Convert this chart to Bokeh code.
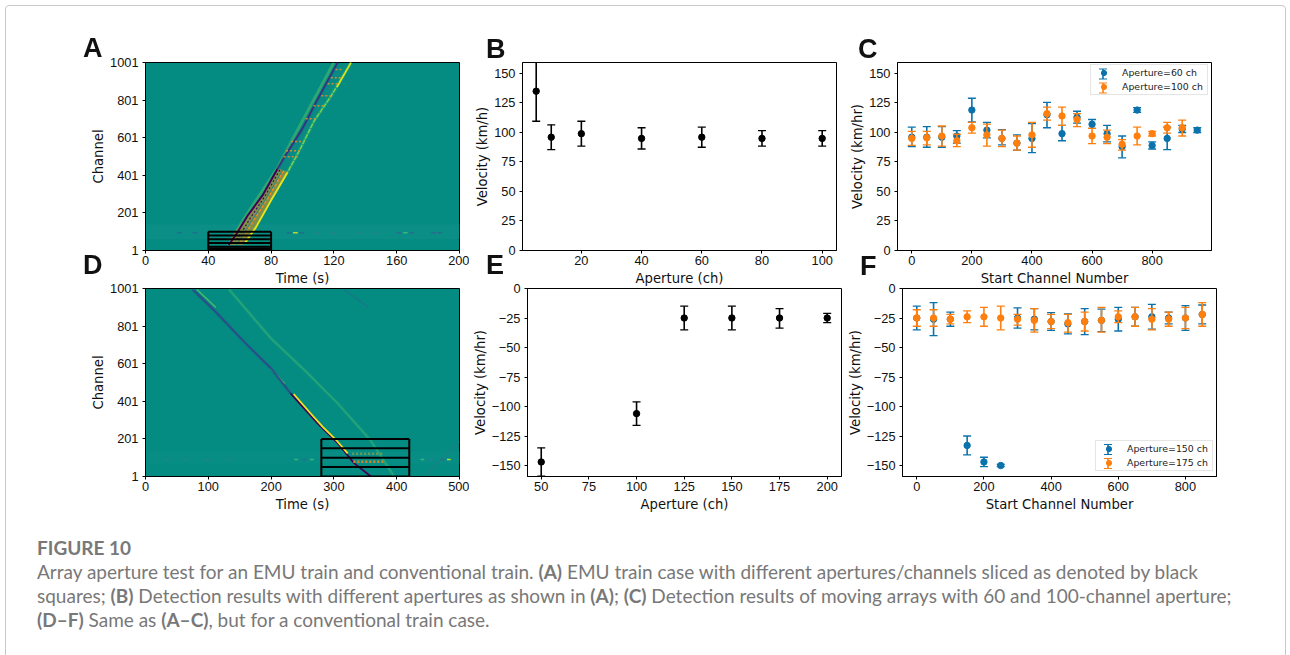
from bokeh.plotting import figure
from bokeh.layouts import column, row
from bokeh.models import (Range1d, FixedTicker, Legend, LegendItem, BoxAnnotation, Div)
from bokeh.embed import file_html
from bokeh.resources import INLINE

# ------------------ DATA ------------------
# Panel A features (time s, channel)
a_dark_lo_t = [84, 75, 65, 58, 53]
a_dark_lo_c = [434, 300, 186, 90, 30]
a_dark_hi_t = [122.4, 108.5, 100, 88.4, 84]
a_dark_hi_c = [1001, 788, 650, 497, 434]
a_yel_lo_t = [90.4, 79.8, 70.3, 63]
a_yel_lo_c = [416, 265, 124, 36]
a_yel_hi_t = [130.9, 118, 107.4, 98, 90.4]
a_yel_hi_c = [1001, 820, 690, 532, 416]
a_top_t = [130.9, 122]
a_top_c = [1001, 870]
a_mid_t = [126.5, 113, 103, 93, 87, 77, 67, 58]
a_mid_c = [1001, 805, 665, 515, 425, 280, 150, 30]
a_fill_t = [85, 91, 80, 70.5, 62, 52, 56, 65, 75]
a_fill_c = [436, 418, 265, 124, 30, 30, 90, 186, 300]
a_in1_t = [85.5, 76.5, 66.5, 58.5]
a_in1_c = [430, 295, 170, 60]
a_in2_t = [88, 78, 68, 60]
a_in2_c = [425, 278, 150, 40]
a_glow_t = [120, 98, 84, 73, 62, 55]
a_glow_c = [1001, 660, 440, 300, 160, 60]
a_speck_t0 = [102, 112, 107, 92.7, 89.5, 88, 116, 118, 121]
a_speck_t1 = [108.5, 118, 114, 101, 98, 98, 123.5, 125, 126]
a_speck_c = [702, 824, 771, 581, 532, 500, 888, 920, 964]
a_noise_t = [20, 30, 90, 94, 98, 108, 118, 135, 145, 160, 164, 168, 182, 186]
a_noise_col = ["#1f6f8b", "#1f6f8b", "#1f6f8b", "#b5de2b", "#1f6f8b", "#26828e", "#26828e", "#26828e", "#26828e",
               "#31688e", "#35b779", "#31688e", "#31688e", "#31688e"]
a_aperture_c = [101, 81, 61, 41, 21, 11, 6, 1]
a_box_t = [40, 80]

# Panel D features
d_dark_hi_t = [75, 109, 162, 200, 231]
d_dark_hi_c = [996, 886, 700, 576, 443]
d_dark_lo_t = [231, 274, 306, 332, 359]
d_dark_lo_c = [443, 284, 178, 72, 1]
d_yel_t = [236, 262, 283, 305, 322]
d_yel_c = [440, 340, 262, 190, 124]
d_upper_t = [82, 112]
d_upper_c = [996, 900]
d_blip_t = [198, 222]
d_blip_c = [580, 495]
d_green_t = [133, 200, 253, 306, 358, 396]
d_green_c = [996, 735, 567, 390, 195, 1]
d_third_t = [316, 354]
d_third_c = [996, 903]
d_right_t = [444, 500]
d_right_c = [1, 187]
d_speck_t0 = [331, 329]
d_speck_t1 = [382, 377]
d_speck_c = [80, 122]
d_noise_t = [30, 60, 95, 130, 237, 250, 262, 438, 452, 470, 480]
d_noise_col = ["#26828e", "#26828e", "#26828e", "#26828e", "#35b779", "#31688e", "#35b779", "#35b779", "#26828e",
               "#31688e", "#b5de2b"]
d_aperture_c = [201, 151, 101, 51, 1]
d_box_t = [280, 420]

# Panel B
b_x = [5, 10, 20, 40, 60, 80, 100]
b_y = [135, 96, 99, 95, 96, 95, 95]
b_lo = [109.5, 85.5, 88.5, 86, 87.5, 88.5, 88.5]
b_hi = [161, 106.5, 109.5, 104, 104.5, 101.5, 101.5]

# Panel E
e_x = [50, 100, 125, 150, 175, 200]
e_y = [-147, -106, -25, -25, -25, -25]
e_lo = [-159, -116, -35, -35, -33.5, -29]
e_hi = [-135, -96, -15, -15, -17, -21]

# Panel C
c1_x = [0, 50, 100, 150, 200, 250, 300, 350, 400, 450, 500, 550, 600, 650, 700, 750, 800, 850, 900, 950]
c1_y = [96, 96, 96, 97, 119, 102, 95, 91, 95, 115, 99, 113, 107, 99, 88, 119, 89, 95, 103, 102]
c1_lo = [88, 87.5, 87.5, 91, 109, 95.5, 89.5, 85, 83, 104, 93, 108, 103.5, 92, 78.5, 117, 86, 85.5, 100, 100]
c1_hi = [104.5, 105, 105, 101.5, 129, 108.5, 102.5, 98, 107.5, 125.5, 106, 118, 111, 106, 97, 121, 92, 104.5, 106, 104]
c2_x = [0, 50, 100, 150, 200, 250, 300, 350, 400, 450, 500, 550, 600, 650, 700, 750, 800, 850, 900]
c2_y = [95, 95.5, 97, 93, 104, 98, 95, 91, 98, 116, 114, 111, 97, 96, 90, 97, 99, 104, 104]
c2_lo = [89, 89.5, 88.5, 88, 99.5, 88.5, 88, 85, 87.5, 110.5, 106, 105, 90.5, 90.5, 85, 89.5, 97, 99.5, 97]
c2_hi = [101, 101, 105.5, 98.5, 108.5, 107, 102, 97, 108.5, 121.5, 121.5, 116, 103.5, 102, 94, 104.5, 101, 108.5, 110.5]

# Panel F
f1_x = [0, 50, 100, 150, 200, 250, 300, 350, 400, 450, 500, 550, 600, 650, 700, 750, 800, 850]
f1_y = [-25, -26, -26, -133, -147, -150, -25, -26, -28, -30, -28, -27, -26, -24, -24, -25, -25, -22]
f1_lo = [-35, -40, -32, -141, -151, -151, -33.5, -35, -35.5, -38.5, -39, -36.5, -36, -32, -34.5, -30, -35.5, -30]
f1_hi = [-15, -12, -20, -125, -143, -149, -16.5, -17, -20.5, -21.5, -17, -17.5, -16, -16, -13.5, -20, -14.5, -14]
f2_x = [0, 50, 100, 150, 200, 250, 300, 350, 400, 450, 500, 550, 600, 650, 700, 750, 800, 850]
f2_y = [-25, -25, -26, -24, -24, -25, -26, -27, -28, -29, -28, -27, -24, -24, -26, -26, -25, -22]
f2_lo = [-32, -32, -30, -29, -32, -35, -31, -37, -34, -37, -36, -37, -29, -32, -35, -32, -34, -32]
f2_hi = [-18, -18, -22, -19, -16, -15, -22, -17, -22, -22, -20, -16, -19, -16, -17, -20, -16, -12]

# Tick values and labels
channel_ticks = [1, 201, 401, 601, 801, 1001]
a_time_ticks = [0, 40, 80, 120, 160, 200]
d_time_ticks = [0, 100, 200, 300, 400, 500]
pos_v_ticks = [0, 25, 50, 75, 100, 125, 150]
neg_v_ticks = [0, -25, -50, -75, -100, -125, -150]
b_x_ticks = [20, 40, 60, 80, 100]
e_x_ticks = [50, 75, 100, 125, 150, 175, 200]
c_x_ticks = [0, 200, 400, 600, 800]

panel_letters = ["A", "B", "C", "D", "E", "F"]
caption_title = "FIGURE 10"
caption_html = ("Array aperture test for an EMU train and conventional train. <b>(A)</b> EMU train case with different "
                "apertures/channels sliced as denoted by black<br>squares; <b>(B)</b> Detection results with different "
                "apertures as shown in <b>(A)</b>; <b>(C)</b> Detection results of moving arrays with 60 and 100-channel "
                "aperture;<br><b>(D–F)</b> Same as <b>(A–C)</b>, but for a conventional train case.")

# ------------------ STYLE ------------------
BLUE = "#0b72ab"
ORANGE = "#ff7f0e"
TEAL = "#058c82"
FONT = "DejaVu Sans"
TICK_FONT = "Liberation Sans"
TICK = "12.8px"
LABEL = "13.2px"
FW, FH = 314, 188
BORDERS = {"l": (145, 10), "m": (53, 2), "r": (59, 29)}  # left, right
TOP1, BOT1, TOP2, BOT2 = 62, 39, 9, 39
FRAME_LEFT = {"l": 145, "m": 522, "r": 897}
FRAME_BOTTOM = {1: 250, 2: 476}
LETTER_XY = {"A": (83, 33), "B": (486, 34), "C": (858, 34), "D": (83, 250), "E": (486, 250), "F": (860, 251)}


def make(col, rw, xr, yr, xticks, yticks, xlabel, ylabel):
    l, r = BORDERS[col]
    t, b = (TOP1, BOT1) if rw == 1 else (TOP2, BOT2)
    p = figure(frame_width=FW, frame_height=FH, width=FW + l + r, height=FH + t + b,
               x_range=Range1d(*xr), y_range=Range1d(*yr), toolbar_location=None,
               output_backend="svg", min_border_left=l, min_border_right=r, min_border_top=t, min_border_bottom=b,
               border_fill_color=None if rw == 2 else "white")
    p.grid.visible = False
    p.outline_line_color = "black"
    p.outline_line_width = 1
    for ax, ticks, lab in ((p.xaxis[0], xticks, xlabel), (p.yaxis[0], yticks, ylabel)):
        ax.ticker = FixedTicker(ticks=ticks)
        ax.major_label_overrides = {v: (str(v).replace("-", "\u2212")) for v in ticks}
        ax.axis_label = lab
        ax.axis_label_text_font = FONT
        ax.axis_label_text_font_size = LABEL
        ax.axis_label_text_font_style = "normal"
        ax.axis_label_text_color = "#111111"
        ax.major_label_text_font = TICK_FONT
        ax.major_label_text_font_size = TICK
        ax.major_label_text_color = "#111111"
        ax.major_tick_in = 0
        ax.major_tick_out = 3
        ax.minor_tick_line_color = None
        ax.axis_line_color = "black"
        ax.major_tick_line_color = "black"
        ax.major_label_standoff = 2
        ax.axis_label_standoff = 3
    p.yaxis[0].major_label_standoff = 4
    p.yaxis[0].axis_label_standoff = 1
    return p


def errs(p, x, y, lo, hi, color, cap=8):
    p.segment(x, lo, x, hi, line_color=color, line_width=1.6)
    p.scatter(x, lo, marker="dash", size=cap, line_color=color, line_width=1.3)
    p.scatter(x, hi, marker="dash", size=cap, line_color=color, line_width=1.3)
    return p.scatter(x, y, marker="circle", size=6.4, fill_color=color, line_color=color)


def thin_box(p, left, right, bottom, top, color):
    p.add_layout(BoxAnnotation(left=left, right=right, bottom=bottom, top=top, left_units="screen",
                               right_units="screen", bottom_units="screen", top_units="screen",
                               fill_color=color, fill_alpha=1, line_alpha=0, level="overlay"))


def key(p, col, rw, cx, cy, color):
    # the error-bar stroke of a legend key: screen units run from the frame's lower left corner
    sx = cx - FRAME_LEFT[col]
    y = FRAME_BOTTOM[rw] - cy
    thin_box(p, sx - 0.8, sx + 0.8, y - 5, y + 5, color)
    thin_box(p, sx - 4, sx + 4, y + 4.4, y + 5.6, color)
    thin_box(p, sx - 4, sx + 4, y - 5.6, y - 4.4, color)


def legend(p, r1, r2, l1, l2, x, y_bot):
    lg = Legend(items=[LegendItem(label=l1, renderers=[r1]), LegendItem(label=l2, renderers=[r2])],
                location=(x, y_bot), orientation="vertical", padding=1, margin=0, spacing=1,
                glyph_width=23, glyph_height=13, label_standoff=7, label_height=13, label_width=84,
                label_text_font=FONT, label_text_font_size="9.4px", label_text_color="#222222",
                border_line_color="#cccccc", border_line_width=1, background_fill_alpha=0)
    p.add_layout(lg, "center")


# ------------------ PANEL A ------------------
pa = make("l", 1, (0, 200), (1, 1001), a_time_ticks, channel_ticks, "Time (s)", "Channel")
pa.background_fill_color = TEAL
pa.quad(left=[0], right=[200], bottom=[62], top=[140], fill_color="#0a8e85", line_color=None)
pa.line(a_glow_t, a_glow_c, line_color="#5ec962", line_width=3, line_alpha=0.45)
pa.line(a_yel_hi_t, a_yel_hi_c, line_color="#35b779", line_width=3.5, line_alpha=0.3)
pa.line(a_dark_hi_t, a_dark_hi_c, line_color="#2c4a8a", line_width=3.5, line_alpha=0.3)
pa.patch(a_fill_t, a_fill_c, fill_color="#7d8f4c", line_color=None)
pa.line(a_in1_t, a_in1_c, line_color="#46085c", line_width=1.2, line_dash="2 2")
pa.line(a_in2_t, a_in2_c, line_color="#f08a1d", line_width=1.5, line_dash="3 2")
pa.line(a_dark_lo_t, a_dark_lo_c, line_color="#440154", line_width=2)
pa.line(a_dark_hi_t, a_dark_hi_c, line_color="#3b2a7f", line_width=1.5)
pa.line(a_mid_t, a_mid_c, line_color="#1f7f8c", line_width=1.0, line_alpha=0.8)
pa.line(a_yel_lo_t, a_yel_lo_c, line_color="#e5e419", line_width=2)
pa.line(a_yel_hi_t, a_yel_hi_c, line_color="#7ad151", line_width=1.5, line_dash="5 1")
pa.line(a_top_t, a_top_c, line_color="#d8e219", line_width=1.6)
pa.segment(a_speck_t0, a_speck_c, a_speck_t1, a_speck_c, line_color="#c9922f", line_width=1.5, line_dash="2 2")
pa.segment(a_noise_t, [95] * len(a_noise_t), [t + 3 for t in a_noise_t], [95] * len(a_noise_t),
           line_color=a_noise_col, line_width=1.5)
pa.segment([a_box_t[0]] * len(a_aperture_c), a_aperture_c, [a_box_t[1]] * len(a_aperture_c), a_aperture_c,
           line_color="black", line_width=2)
pa.segment(a_box_t, [1, 1], a_box_t, [101, 101], line_color="black", line_width=2)

# ------------------ PANEL D ------------------
pd_ = make("l", 2, (0, 500), (1, 1001), d_time_ticks, channel_ticks, "Time (s)", "Channel")
pd_.background_fill_color = TEAL
pd_.quad(left=[0], right=[500], bottom=[70], top=[135], fill_color="#078d83", line_color=None)
pd_.line(d_green_t, d_green_c, line_color="#35b779", line_width=3.5, line_alpha=0.22)
pd_.line(d_green_t, d_green_c, line_color="#3fb56f", line_width=1.4, line_alpha=0.55)
pd_.line(d_third_t, d_third_c, line_color="#1f6f8b", line_width=1.5, line_alpha=0.7)
pd_.line(d_right_t, d_right_c, line_color="#1f7f8c", line_width=1.5, line_alpha=0.7)
pd_.line(d_upper_t, d_upper_c, line_color="#5ec962", line_width=1.3, line_alpha=0.8)
pd_.line(d_blip_t, d_blip_c, line_color="#5ec962", line_width=1.3, line_alpha=0.8)
pd_.line(d_dark_hi_t, d_dark_hi_c, line_color="#2c4a8a", line_width=3.5, line_alpha=0.3)
pd_.line(d_dark_hi_t, d_dark_hi_c, line_color="#2c4a8a", line_width=1.5)
pd_.line(d_dark_lo_t, d_dark_lo_c, line_color="#440154", line_width=1.8)
pd_.line(d_yel_t, d_yel_c, line_color="#f1e51d", line_width=1.8)
pd_.segment(d_speck_t0, d_speck_c, d_speck_t1, d_speck_c, line_color=["#d08a2c", "#6f9a55"], line_width=2.5,
            line_dash="2 2")
pd_.segment(d_noise_t, [92] * len(d_noise_t), [t + 6 for t in d_noise_t], [92] * len(d_noise_t),
            line_color=d_noise_col, line_width=1.5)
pd_.segment([d_box_t[0]] * len(d_aperture_c), d_aperture_c, [d_box_t[1]] * len(d_aperture_c), d_aperture_c,
            line_color="black", line_width=2)
pd_.segment(d_box_t, [1, 1], d_box_t, [201, 201], line_color="black", line_width=2)

# ------------------ PANELS B, E ------------------
pb = make("m", 1, (0.45, 104.75), (0, 159.3), b_x_ticks, pos_v_ticks, "Aperture (ch)", "Velocity (km/h)")
errs(pb, b_x, b_y, b_lo, b_hi, "black")
pe = make("m", 2, (42.8, 207.5), (-159.3, 0), e_x_ticks, neg_v_ticks, "Aperture (ch)", "Velocity (km/hr)")
errs(pe, e_x, e_y, e_lo, e_hi, "black")

# ------------------ PANELS C, F ------------------
pc = make("r", 1, (-47.5, 997.5), (0, 159.3), c_x_ticks, pos_v_ticks, "Start Channel Number", "Velocity (km/hr)")
r1 = errs(pc, c1_x, c1_y, c1_lo, c1_hi, BLUE)
r2 = errs(pc, c2_x, c2_y, c2_lo, c2_hi, ORANGE)
legend(pc, r1, r2, "Aperture=60 ch", "Aperture=100 ch", 193, 155)
key(pc, "r", 1, 1102.5, 73.5, BLUE)
key(pc, "r", 1, 1102.5, 87.5, ORANGE)

pf = make("r", 2, (-42.5, 892.5), (-159.3, 0), c_x_ticks, neg_v_ticks, "Start Channel Number", "Velocity (km/hr)")
r3 = errs(pf, f1_x, f1_y, f1_lo, f1_hi, BLUE)
r4 = errs(pf, f2_x, f2_y, f2_lo, f2_hi, ORANGE)
legend(pf, r3, r4, "Aperture=150 ch", "Aperture=175 ch", 193, 5)
key(pf, "r", 2, 1102.5, 449, BLUE)
key(pf, "r", 2, 1102.5, 463, ORANGE)

letters_html = "".join(
    '<div style="position:fixed;left:%dpx;top:%dpx;font:bold 27px/30px \'Liberation Sans\';color:#111">%s</div>'
    % (LETTER_XY[c][0], LETTER_XY[c][1], c) for c in panel_letters)

caption = Div(text=(
    '<div style="position:fixed;left:5px;top:5px;width:1281px;height:720px;border:1px solid #c8c8c8;'
    'border-radius:4px;box-sizing:border-box;pointer-events:none"></div>' + letters_html +
    '<div style="font-family:Lato;font-size:19px;line-height:24px;color:#787878;white-space:nowrap;margin-left:37px">'
    '<span style="font-weight:700">' + caption_title + '</span><br>' + caption_html + '</div>'),
    width=1240, height=100, margin=(11, 0, 0, 0))

row2 = row(pd_, pe, pf, styles={"transform": "translateY(-10px)"})
layout = column(row(pa, pb, pc), row2, caption)
open("out.html", "w").write(file_html(layout, INLINE))
